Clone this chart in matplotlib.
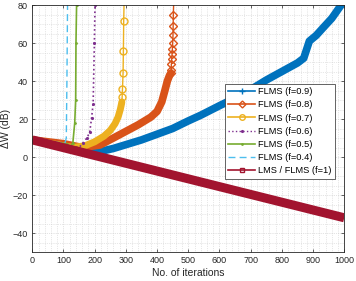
import matplotlib
matplotlib.use("Agg")
import matplotlib.pyplot as plt
import matplotlib.ticker as ticker
from matplotlib.lines import Line2D

plt.rcParams["font.family"] = ["Liberation Sans", "DejaVu Sans"]

# values (iteration, dB)
it_09 = [0, 100, 170, 220, 260, 300, 350, 400, 450, 500, 540, 600, 650, 700, 750,
         800, 850, 870, 878, 888, 910, 932, 960, 990]
dw_09 = [9, 6, 3.5, 3, 4.5, 6.5, 9, 12, 15, 19, 22, 27, 31, 35.5, 40.5,
         45, 49.5, 52, 56, 61, 64, 68, 73, 80]

it_08 = [0, 100, 160, 217, 260, 300, 340, 380, 400, 415, 425, 433, 440, 444]
dw_08 = [9, 7, 5, 6.3, 10, 13.5, 17, 21, 24, 29, 35, 40, 43, 44]
it_08_tail = [444, 445, 446, 447, 448, 449, 450, 451, 451.5, 452, 453]
dw_08_tail = [44, 46, 49, 51.6, 54, 57, 60, 64, 69, 75, 80]

it_07 = [0, 130, 170, 200, 230, 250, 265, 275, 282, 286, 287]
dw_07 = [9, 5, 6, 8, 11, 14, 17.5, 21, 25, 28, 29]
it_07_tail = [287, 288, 289, 291, 292, 293, 294]
dw_07_tail = [29, 31.7, 35.6, 44.4, 56, 71.7, 80]

it_06 = [0, 130, 150, 163, 175, 184, 190, 195, 199, 201]
dw_06 = [9, 5.5, 5, 7.4, 10, 13, 20.5, 28, 60, 80]

it_05 = [0, 110, 122, 130, 136, 139, 140, 142]
dw_05 = [9, 7, 5.5, 7.4, 18, 30, 60, 80]

it_04 = [0, 90, 104, 109, 111, 113]
dw_04 = [9, 7.5, 7, 10, 40, 80]

it_lms = [0, 1000]
dw_lms = [9, -32]

labels = ["FLMS (f=0.9)", "FLMS (f=0.8)", "FLMS (f=0.7)", "FLMS (f=0.6)",
          "FLMS (f=0.5)", "FLMS (f=0.4)", "LMS / FLMS (f=1)"]
colors = ["#0072BD", "#D95319", "#EDB120", "#7E2F8E", "#77AC30", "#4DBEEE", "#A2142F"]

fig = plt.figure(figsize=(3.56, 2.81), dpi=100)
ax = fig.add_axes([0.0907, 0.1032, 0.8764, 0.8790])

thick = dict(solid_joinstyle="round", solid_capstyle="round")
ax.plot(it_09, dw_09, color=colors[0], lw=5.5, **thick)
ax.plot(it_08, dw_08, color=colors[1], lw=5.5, **thick)
ax.plot(it_08_tail, dw_08_tail, color=colors[1], lw=1, marker="D", ms=4.2,
        mfc="none", mew=1, markevery=list(range(len(it_08_tail) - 1)))
ax.plot(it_07, dw_07, color=colors[2], lw=5.0, **thick)
ax.plot(it_07_tail, dw_07_tail, color=colors[2], lw=1, marker="o", ms=5,
        mfc="none", mew=1, markevery=list(range(1, len(it_07_tail) - 1)))
ax.plot(it_06, dw_06, color=colors[3], lw=1.2, ls=":", marker=".", ms=2.5)
ax.plot(it_05, dw_05, color=colors[4], lw=1.2, marker=".", ms=2)
ax.plot(it_04, dw_04, color=colors[5], lw=1.0, ls=(0, (5, 3)))
ax.plot(it_lms, dw_lms, color=colors[6], lw=6.5, solid_capstyle="butt")

ax.set_xlim(0, 1000)
ax.set_ylim(-50, 80)
ax.set_xticks(range(0, 1001, 100))
ax.set_yticks(range(-40, 81, 20))
ax.xaxis.set_minor_locator(ticker.MultipleLocator(20))
ax.yaxis.set_minor_locator(ticker.MultipleLocator(5))
ax.grid(which="major", color="#c8c8c8", lw=0.5, ls=":")
ax.grid(which="minor", color="#d0d0d0", lw=0.5, ls=":")
ax.tick_params(which="major", direction="in", length=2.5, width=0.5,
               top=True, right=True, labelsize=6.5, colors="#262626", pad=3)
ax.tick_params(which="minor", length=0, top=True, right=True)
for sp in ax.spines.values():
    sp.set_color("#262626")
    sp.set_linewidth(0.6)

ax.set_xlabel("No. of iterations", fontsize=7.5, color="#262626", labelpad=2)
ax.set_ylabel("ΔW (dB)", fontsize=7.5, color="#262626", labelpad=1)

handles = [
    Line2D([], [], color=colors[0], lw=1.2, marker="+", ms=4),
    Line2D([], [], color=colors[1], lw=1.2, marker="D", ms=3.5, mfc="none"),
    Line2D([], [], color=colors[2], lw=1.2, marker="o", ms=4, mfc="none"),
    Line2D([], [], color=colors[3], lw=1.0, ls=":", marker=".", ms=2.5),
    Line2D([], [], color=colors[4], lw=1.2, marker=".", ms=2),
    Line2D([], [], color=colors[5], lw=1.0, ls=(0, (5, 3))),
    Line2D([], [], color=colors[6], lw=1.2, marker="s", ms=3.5, mfc="none"),
]
leg = ax.legend(handles, labels, loc="upper left", bbox_to_anchor=(0.618, 0.68),
                fontsize=6.7, fancybox=False, framealpha=1, edgecolor="#262626",
                handlelength=2.9, handletextpad=0.3, labelspacing=0.45,
                borderpad=0.35, borderaxespad=0)
leg.get_frame().set_linewidth(0.5)

fig.savefig("out.png", dpi=100)
